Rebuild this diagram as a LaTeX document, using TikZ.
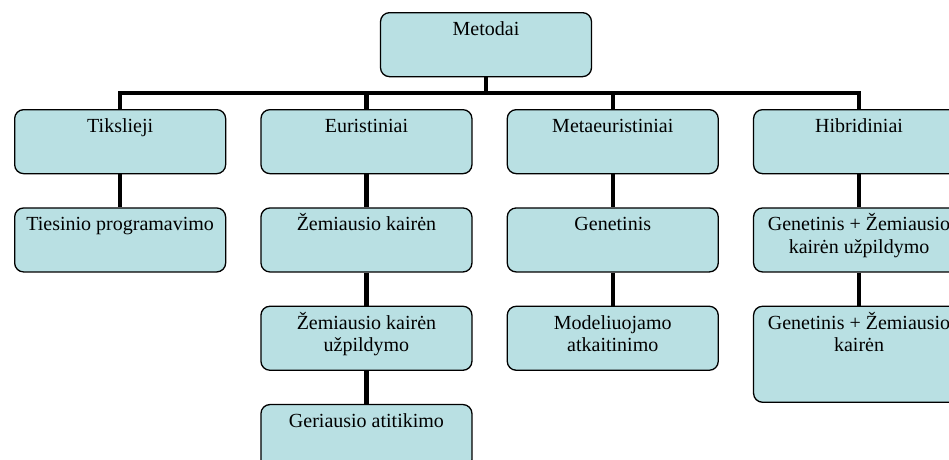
\documentclass[tikz,border=0pt]{standalone}
\usepackage{fontspec}
\setmainfont{Liberation Serif}
\usetikzlibrary{positioning}
\definecolor{boxfill}{RGB}{185,224,227}
\newcommand{\boxtxt}[2][64pt]{\parbox[t][#1][t]{211pt}{\centering\rule{0pt}{23pt}#2}}

\begin{document}
\begin{tikzpicture}[x=1pt,y=1pt,
    box/.style={draw, fill=boxfill, line width=1.3pt, rounded corners=9pt, inner sep=0pt, anchor=north, font=\fontsize{20}{22.7}\selectfont},
    conn/.style={line width=4.5pt}]
    \useasboundingbox (0,0) rectangle (949,-459);
    \coordinate (bus) at (0,-93);
    \node (root) [box] at (486,-12) {\boxtxt{Metodai}};
    \node (tiksl) [box, anchor=north west] at (14,-109) {\boxtxt{Tikslieji}};
    \node (eur) [box, right=34pt of tiksl] {\boxtxt{Euristiniai}};
    \node (meta) [box, right=34pt of eur] {\boxtxt{Metaeuristiniai}};
    \node (hibr) [box, right=34pt of meta] {\boxtxt{Hibridiniai}};
    \node (tiesin) [box, below=33pt of tiksl] {\boxtxt{Tiesinio programavimo}};
    \node (zem) [box, below=33pt of eur] {\boxtxt{Žemiausio kairėn}};
    \node (zemu) [box, below=33pt of zem] {\boxtxt{Žemiausio kairėn\\užpildymo}};
    \node (geri) [box, below=33pt of zemu] {\boxtxt{Geriausio atitikimo}};
    \node (genet) [box, below=33pt of meta] {\boxtxt{Genetinis}};
    \node (model) [box, below=33pt of genet] {\boxtxt{Modeliuojamo\\atkaitinimo}};
    \node (hib1) [box, below=33pt of hibr] {\boxtxt{Genetinis + Žemiausio\\kairėn užpildymo}};
    \node (hib2) [box, below=33pt of hib1] {\boxtxt[96pt]{Genetinis + Žemiausio\\kairėn}};
    % tree lines
    \draw[conn] (root.south) -- (root.south |- bus);
    \draw[conn] (tiksl.north) -- (tiksl.north |- bus) -- (hibr.north |- bus) -- (hibr.north);
    \foreach \n in {eur,meta}
        \draw[conn] (\n.north) -- (\n.north |- bus);
    \draw[conn] (tiksl) -- (tiesin);
    \draw[conn] (eur) -- (zem) (zem) -- (zemu) (zemu) -- (geri);
    \draw[conn] (meta) -- (genet) (genet) -- (model);
    \draw[conn] (hibr) -- (hib1) (hib1) -- (hib2);
\end{tikzpicture}
\end{document}
